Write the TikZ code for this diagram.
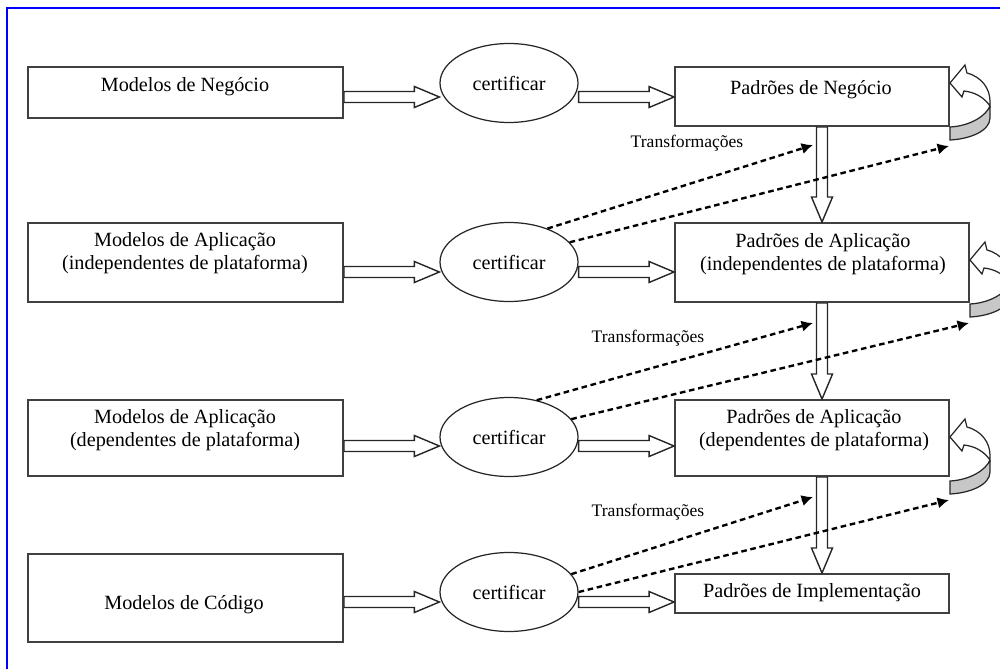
\documentclass[tikz,border=0pt]{standalone}
\usepackage{fontspec}
\setmainfont{Liberation Serif}
\usetikzlibrary{arrows.meta,calc,shapes.geometric}

\tikzset{
  box/.style 2 args={draw=black!75,line width=1.1pt,minimum width=#1*0.02cm,minimum height=#2*0.02cm,inner sep=0pt},
  cert/.style={draw=black!85,line width=0.7pt,ellipse,minimum width=138*0.02cm,minimum height=79*0.02cm,inner sep=0pt,font=\fontsize{11.5}{13}\selectfont},
  txt/.style={align=center,font=\fontsize{11.5}{12.8}\selectfont,inner sep=0pt},
  trf/.style={font=\fontsize{10}{12}\selectfont,inner sep=0pt},
  blockarr/.style={draw=black!85,line width=0.8pt,fill=white},
  trans/.style={line width=1.35pt,dash pattern=on 3.2pt off 2.1pt,-{Latex[length=6.5pt,width=6.5pt]}},
  loopline/.style={draw=black!85,line width=0.7pt}
}

% hollow block arrow from #1 to #2
\newcommand\blockarrow[2]{%
  \coordinate (ba-s) at (#1);
  \coordinate (ba-t) at (#2);
  \coordinate (ba-h) at ($(ba-t)!0.5cm!(ba-s)$);
  \draw[blockarr] ($(ba-s)!0.11cm!90:(ba-t)$) -- ($(ba-h)!0.11cm!-90:(ba-s)$)
    -- ($(ba-h)!0.21cm!-90:(ba-s)$) -- (ba-t) -- ($(ba-h)!0.21cm!90:(ba-s)$)
    -- ($(ba-h)!0.11cm!90:(ba-s)$) -- ($(ba-s)!0.11cm!-90:(ba-t)$) -- cycle;}

% curved arrow back into a box, tip at #1, lower end named #2
\newcommand\selfloop[2]{%
  \begin{scope}[shift={(#1)}]
  \filldraw[loopline,fill=black!22] (40,23) -- (40,35) .. controls (40,48) and (20,56) .. (0,57)
    -- (0,44) .. controls (20,43) and (36,33) .. (40,23);
  \filldraw[loopline,fill=white] (0,0) -- (15,-18) -- (17,-10) .. controls (32,-6) and (40,6) .. (40,18)
    -- (40,23) .. controls (34,14) and (24,9) .. (14,8) -- (12,14) -- cycle;
  \coordinate (#2) at (-1,63);
  \end{scope}}

\begin{document}
\begin{tikzpicture}[x=0.02cm,y=-0.02cm]
  \useasboundingbox (0,0) rectangle (1000,669);
  %frame
  \draw[blue,line width=1.2pt] (7,669) -- (7,8) -- (1000,8);

  %models
  \node[box={315}{51}] (mn) at (185.5,92.5) {};
  \node[txt] (mnT) at (185,87) {Modelos de Negócio};
  \node[box={315}{79}] (mai) at (185.5,262.5) {};
  \node[txt] (maiT) at (185,253) {Modelos de Aplicação\\(independentes de plataforma)};
  \node[box={315}{76}] (mad) at (185.5,438) {};
  \node[txt] (madT) at (185,430) {Modelos de Aplicação\\(dependentes de plataforma)};
  \node[box={315}{88}] (mc) at (185.5,598) {};
  \node[txt] (mcT) at (184,605) {Modelos de Código};

  %certification
  \node[cert] (c1) at (509,83) {certificar};
  \node[cert] (c2) at (509,262) {certificar};
  \node[cert] (c3) at (509,437) {certificar};
  \node[cert] (c4) at (509,592) {certificar};

  %patterns
  \node[box={274}{59}] (pn) at (812,96.5) {};
  \node[txt] (pnT) at (811,90) {Padrões de Negócio};
  \node[box={294}{79}] (pai) at (822,262.5) {};
  \node[txt] (paiT) at (823,254) {Padrões de Aplicação\\(independentes de plataforma)};
  \node[box={274}{76}] (pad) at (812,438) {};
  \node[txt] (padT) at (814,430) {Padrões de Aplicação\\(dependentes de plataforma)};
  \node[box={274}{39}] (pim) at (812,593.5) {};
  \node[txt] (pimT) at (812,593) {Padrões de Implementação};

  %hollow arrows
  \blockarrow{mn.east |- 0,97}{c1.west |- 0,97}
  \blockarrow{c1.east |- 0,97}{pn.west |- 0,97}
  \blockarrow{mai.east |- 0,272}{c2.west |- 0,272}
  \blockarrow{c2.east |- 0,272}{pai.west |- 0,272}
  \blockarrow{mad.east |- 0,446}{c3.west |- 0,446}
  \blockarrow{c3.east |- 0,446}{pad.west |- 0,446}
  \blockarrow{mc.east |- 0,602}{c4.west |- 0,602}
  \blockarrow{c4.east |- 0,602}{pim.west |- 0,602}
  \blockarrow{pn.south -| 822,0}{pai.north -| 822,0}
  \blockarrow{pai.south -| 822,0}{pad.north -| 822,0}
  \blockarrow{pad.south -| 822,0}{pim.north -| 822,0}

  %curved arrows
  \selfloop{pn.east |- 0,83}{l1}
  \selfloop{pai.east |- 0,260}{l2}
  \selfloop{pad.east |- 0,437}{l3}

  %transformations
  \coordinate (v1) at (813,145);
  \coordinate (v2) at (813,323);
  \coordinate (v3) at (813,497);
  \draw[trans] (c2.41) -- (v1);
  \draw[trans] (c2.18) -- (l1);
  \draw[trans] (c3.53) -- (v2);
  \draw[trans] (c3.16) -- (l2);
  \draw[trans] (c4.16) -- (v3);
  \draw[trans] (c4.0) -- (l3);
  \node[trf] (tr1) at (687,143) {Transformações};
  \node[trf] (tr2) at (648,338) {Transformações};
  \node[trf] (tr3) at (648,512) {Transformações};
\end{tikzpicture}
\end{document}
